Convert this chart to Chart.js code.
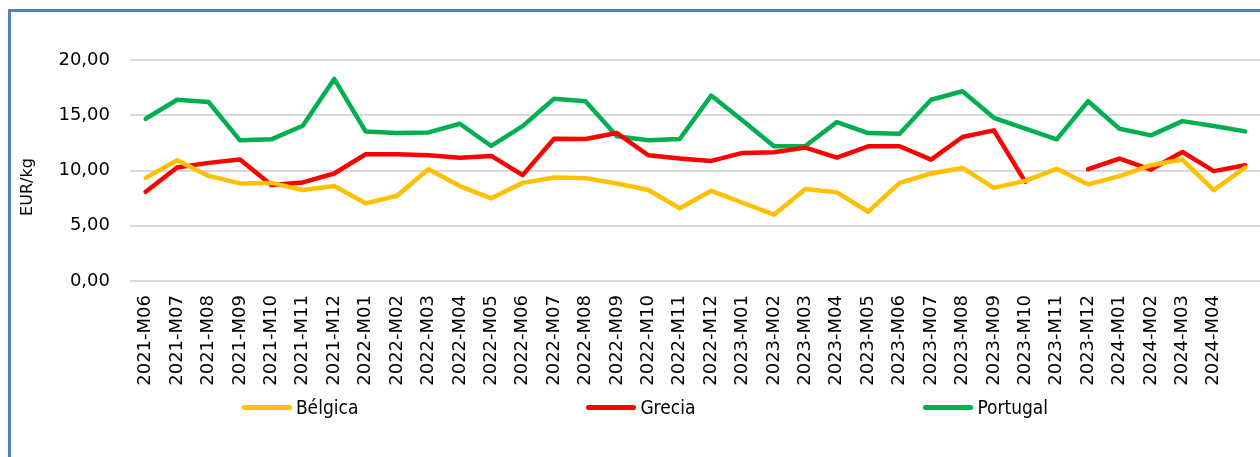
<!DOCTYPE html>
<html>
<head>
<meta charset="utf-8">
<script src="https://cdn.jsdelivr.net/npm/chart.js@4"></script>
<style>
  body { margin: 0; background: #fff; overflow: hidden; width: 1260px; height: 457px; position: relative; }
  #frame { position: absolute; left: 8px; top: 9px; width: 1300px; height: 500px;
           border-left: 3px solid #4F81BD; border-top: 3px solid #4F81BD; }
  #chartBox { position: absolute; left: 11px; top: 12px; width: 1270px; height: 445px; }
  #legend { position: absolute; left: 0; top: 396px; width: 1290px; display: flex;
            justify-content: center; align-items: center; gap: 228px;
            font-family: "DejaVu Sans Condensed", "DejaVu Sans", sans-serif; font-size: 19px; color: #000; }
  .item { display: flex; align-items: center; white-space: nowrap; }
  .swatch { width: 50px; height: 5px; border-radius: 3px; margin-right: 4px; }
</style>
</head>
<body>
<div id="frame"></div>
<div id="chartBox"><canvas id="chart" width="1270" height="445"></canvas></div>
<div id="legend"></div>
<script>
// Categories (monthly)
const months = [
  '2021-M06', '2021-M07', '2021-M08', '2021-M09', '2021-M10', '2021-M11', '2021-M12',
  '2022-M01', '2022-M02', '2022-M03', '2022-M04', '2022-M05', '2022-M06',
  '2022-M07', '2022-M08', '2022-M09', '2022-M10', '2022-M11', '2022-M12',
  '2023-M01', '2023-M02', '2023-M03', '2023-M04', '2023-M05', '2023-M06',
  '2023-M07', '2023-M08', '2023-M09', '2023-M10', '2023-M11', '2023-M12',
  '2024-M01', '2024-M02', '2024-M03', '2024-M04', '2024-M05'
];

// Series values (EUR/kg)
const belgica = [
  9.33, 10.93, 9.51, 8.83, 8.88, 8.23, 8.59,
  7.03, 7.71, 10.12, 8.59, 7.48, 8.88,
  9.37, 9.31, 8.83, 8.23, 6.58, 8.16,
  7.08, 6.00, 8.32, 8.02, 6.27, 8.88,
  9.73, 10.23, 8.43, 9.06, 10.15, 8.74,
  9.49, 10.48, 10.99, 8.23, 10.27
];
const grecia = [
  8.07, 10.27, 10.69, 10.99, 8.68, 8.92, 9.73,
  11.47, 11.47, 11.38, 11.15, 11.32, 9.58,
  12.88, 12.85, 13.39, 11.38, 11.08, 10.87,
  11.59, 11.65, 12.07, 11.17, 12.19, 12.19,
  10.99, 13.03, 13.63, 8.97, null, 10.12,
  11.08, 10.09, 11.68, 9.94, 10.48
];
const portugal = [
  14.68, 16.40, 16.20, 12.73, 12.82, 14.05, 18.29,
  13.54, 13.39, 13.45, 14.23, 12.22, 14.02,
  16.49, 16.27, 13.09, 12.73, 12.85, 16.78,
  14.53, 12.19, 12.22, 14.38, 13.39, 13.33,
  16.40, 17.17, 14.77, 13.78, 12.82, 16.27,
  13.78, 13.18, 14.47, 14.02, 13.54
];

// Y ticks
const yMin = 0;
const yMax = 20;
const yStep = 5;

const seriesNames = ['Bélgica', 'Grecia', 'Portugal'];
const seriesColors = ['#FFC000', '#FF0000', '#00B050'];
const seriesData = [belgica, grecia, portugal];

const tickFont = { family: '"DejaVu Sans", sans-serif', size: 18 };

// y-axis title drawn by hand so it sits where the original one is
const yTitlePlugin = {
  id: 'yTitle',
  afterDraw(chart) {
    const c = chart.ctx;
    c.save();
    c.translate(17, 175);
    c.rotate(-Math.PI / 2);
    c.font = '16px "DejaVu Sans", sans-serif';
    c.fillStyle = '#000';
    c.textAlign = 'center';
    c.textBaseline = 'middle';
    c.fillText('EUR/kg', 0, 0);
    c.restore();
  }
};

const chart = new Chart(document.getElementById('chart'), {
  type: 'line',
  data: {
    labels: months,
    datasets: seriesNames.map((name, i) => ({
      label: name,
      data: seriesData[i],
      borderColor: seriesColors[i],
      backgroundColor: seriesColors[i],
      borderWidth: 4.5,
      pointRadius: 0,
      pointHoverRadius: 0,
      tension: 0,
      spanGaps: false,
      borderJoinStyle: 'round',
      borderCapStyle: 'round'
    }))
  },
  options: {
    responsive: false,
    animation: false,
    layout: { padding: { top: 48, left: 0, right: 15, bottom: 66 } },
    plugins: {
      legend: { display: false },
      tooltip: { enabled: false }
    },
    scales: {
      x: {
        offset: true,
        grid: { display: false, drawTicks: false },
        border: { display: false },
        ticks: {
          autoSkip: false,
          minRotation: 90,
          maxRotation: 90,
          padding: 14,
          color: '#000',
          font: tickFont,
          // last month is cut off in the original picture
          callback: (v, i) => (i < months.length - 1 ? months[i] : '')
        },
        afterFit: (s) => { s.height = 110; }
      },
      y: {
        min: yMin,
        max: yMax,
        grid: { color: '#D9D9D9', lineWidth: 2, drawTicks: false },
        border: { display: false },
        ticks: {
          stepSize: yStep,
          padding: 20,
          color: '#000',
          font: tickFont,
          callback: (v) => v.toFixed(2).replace('.', ',')
        },
        afterFit: (s) => { s.width = 119; }
      }
    }
  },
  plugins: [yTitlePlugin]
});

// Legend (spread out like the original)
const legendEl = document.getElementById('legend');
seriesNames.forEach((name, i) => {
  const item = document.createElement('div');
  item.className = 'item';
  const sw = document.createElement('span');
  sw.className = 'swatch';
  sw.style.background = seriesColors[i];
  const txt = document.createElement('span');
  txt.textContent = name;
  item.appendChild(sw);
  item.appendChild(txt);
  legendEl.appendChild(item);
});
</script>
</body>
</html>
